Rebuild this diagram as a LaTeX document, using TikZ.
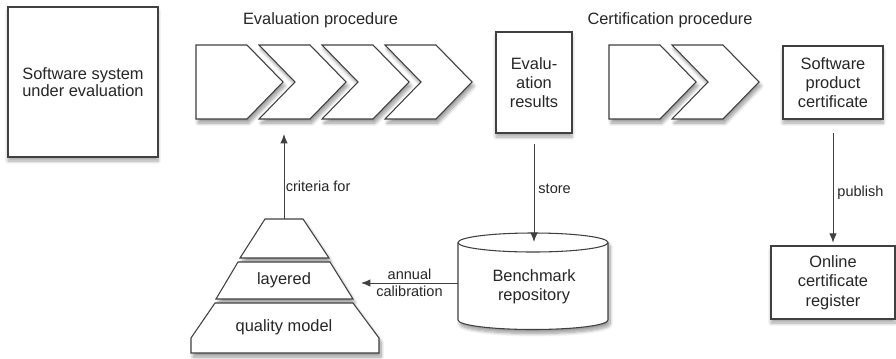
\documentclass[tikz,border=0pt]{standalone}
\usepackage{fontspec}
\setmainfont{Liberation Sans}
\usetikzlibrary{arrows.meta,shadows.blur}

\tikzset{
  box/.style={draw=black!75,line width=.8pt,fill=white,align=center,inner sep=0pt,
    text=black!85,font=\fontsize{12.3}{14.5}\selectfont,
    blur shadow={shadow xshift=0pt,shadow yshift=-3pt,shadow blur steps=8,shadow blur radius=2.5pt,shadow opacity=35}},
  part/.style={draw=black!75,line width=.8pt,fill=white,
    blur shadow={shadow xshift=1.5pt,shadow yshift=-3pt,shadow blur steps=8,shadow blur radius=2.5pt,shadow opacity=40}},
  txt/.style={text=black!85,font=\fontsize{12.3}{14.5}\selectfont,align=center},
  lbl/.style={text=black!85,font=\fontsize{10.9}{12.8}\selectfont,align=center,inner sep=1pt},
  arr/.style={-{Latex[length=7pt,width=5.5pt]},draw=black!75,line width=.7pt}
}

\begin{document}
\begin{tikzpicture}[x=.75pt,y=-.75pt]
  \useasboundingbox (0,0) rectangle (896,358);

  % system under evaluation
  \node[box,minimum width=112.5pt,minimum height=112.5pt,
    font=\fontsize{12.3}{13}\selectfont] (sys) at (83,82) {Software system\\under evaluation};

  % procedures
  \node[txt] (evtitle) at (320.5,20) {Evaluation procedure};
  \node[txt] (cetitle) at (670,20) {Certification procedure};
  \foreach \x/\n in {196/0,259/36,322/36,385/36,609/0,672/36}
    \draw[part] (\x,45) -- ++(51,0) -- ++(36,37) -- ++(-36,37) -- ++(-51,0) -- ++(\n,-37) -- cycle;

  \node[box,minimum width=57pt,minimum height=75.75pt] (res) at (534,82.5) {Evalu-\\ation\\results};
  \node[box,minimum width=75pt,minimum height=54.75pt] (cert) at (833,82.5) {Software\\product\\certificate};
  \node[box,minimum width=93pt,minimum height=54.75pt] (reg) at (833,282.5) {Online\\certificate\\register};

  % layered quality model
  \draw[part] (265,219) -- (303,219) -- (329,258) -- (240,258) -- cycle;
  \draw[part] (238,262) -- (330,262) -- (353,299) -- (216,299) -- cycle;
  \draw[part] (215,303) -- (353,303) -- (379,338) -- (379,353) -- (191,353) -- (191,338) -- cycle;
  \node[txt] (layer) at (284,280) {layered};
  \node[txt] (quality) at (284,327) {quality model};
  \coordinate (apex) at (284,219);
  \coordinate (pyrR) at (361,283);
  \coordinate (evin) at (284,134);

  % benchmark repository
  \draw[part] (458,242.5) -- (458,320) arc[start angle=180,end angle=0,x radius=75,y radius=9.5]
    -- (608,242.5) arc[start angle=0,end angle=-180,x radius=75,y radius=9.5] -- cycle;
  \draw[draw=black!75,line width=.8pt] (458,242.5) arc[start angle=180,end angle=0,x radius=75,y radius=9.5];
  \node[txt] (bench) at (534,287) {Benchmark\\repository};
  \coordinate (benchtop) at (534,242);
  \coordinate (benchL) at (458,283);

  % connectors
  \draw[arr] (apex) -- (evin) node[lbl,pos=.39,right] {criteria for};
  \draw[arr,shorten <=8pt] (res) -- (benchtop) node[lbl,pos=.51,right=2pt] {store};
  \draw[arr,shorten <=10pt,shorten >=2pt] (cert) -- (reg) node[lbl,pos=.58,right=2pt] {publish};
  \draw[arr] (benchL) -- (pyrR) node[lbl,midway] {annual\\calibration};
\end{tikzpicture}
\end{document}
